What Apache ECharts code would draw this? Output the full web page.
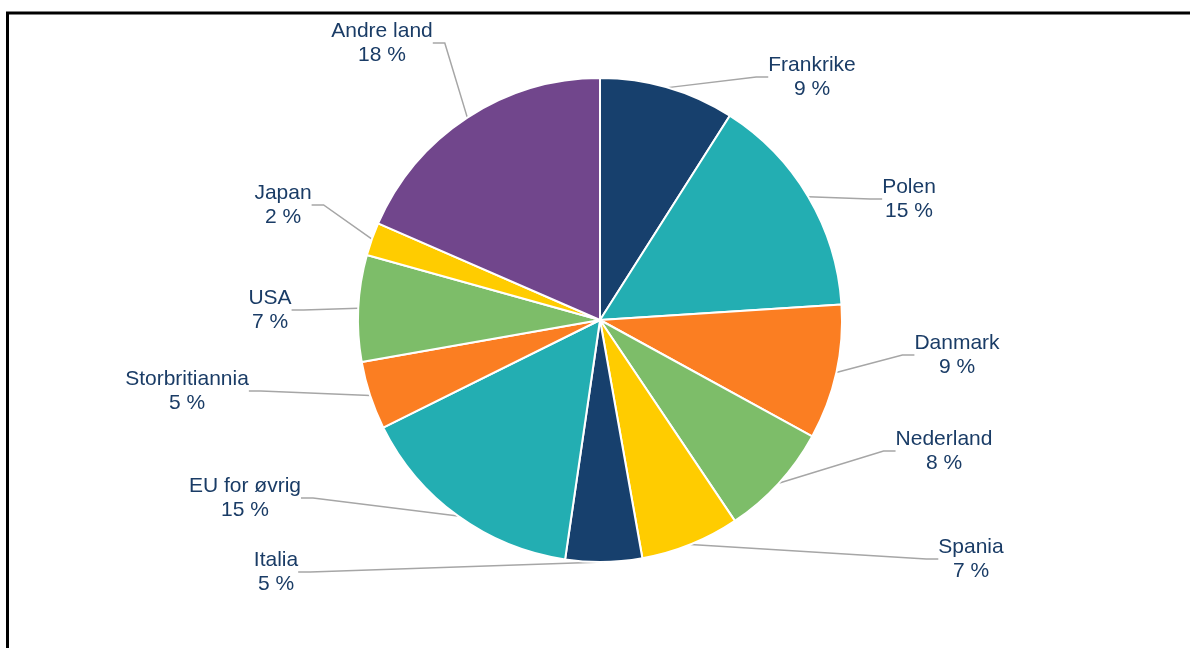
<!DOCTYPE html>
<html>
<head>
<meta charset="utf-8">
<script src="https://cdn.jsdelivr.net/npm/echarts@6/dist/echarts.min.js"></script>
<style>html,body{margin:0;padding:0;background:#fff;}#c{width:1190px;height:648px;}</style>
</head>
<body>
<div id="c"></div>
<script>
const categories = ['Frankrike','Polen','Danmark','Nederland','Spania','Italia','EU for øvrig','Storbritiannia','USA','Japan','Andre land'];
const shares = [9.0, 14.95, 9.0, 7.6, 6.6, 5.1, 15.35, 4.55, 7.1, 2.2, 18.45];
const colors = ['#17406D','#23AEB2','#FB7E22','#7DBD69','#FFCC00','#17406D','#23AEB2','#FB7E22','#7DBD69','#FFCC00','#71468C'];
// label anchor positions (layout only)
const labelPos = [[812,77],[909,199],[957,355],[944,451],[971,559],[276,572],[245,498],[187,391],[270,310],[283,205],[382,43]];

const chart = echarts.init(document.getElementById('c'));
chart.setOption({
  animation: false,
  graphic: [{
    type: 'rect', shape: {x: 7.5, y: 13, width: 1400, height: 900},
    style: {fill: 'none', stroke: '#000', lineWidth: 3}, silent: true
  }],
  series: [{
    type: 'pie',
    center: [600, 320],
    radius: 242,
    startAngle: 90,
    clockwise: true,
    data: categories.map((n, i) => ({name: n, value: shares[i], itemStyle: {color: colors[i]}})),
    itemStyle: {borderColor: '#fff', borderWidth: 2},
    label: {
      show: true,
      formatter: p => p.name + '\n' + Math.round(p.percent) + ' %',
      color: '#1A3C66',
      fontFamily: 'Liberation Sans, Arial, sans-serif',
      fontSize: 21,
      lineHeight: 24,
      align: 'center'
    },
    labelLine: {show: true, length: 30, length2: 12, lineStyle: {color: '#A6A6A6', width: 1.5}},
    labelLayout: function (params) {
      const p = labelPos[params.dataIndex];
      return {x: p[0], y: p[1], align: 'center', verticalAlign: 'middle', moveOverlap: false};
    },
    emphasis: {disabled: true}
  }]
});
</script>
</body>
</html>
